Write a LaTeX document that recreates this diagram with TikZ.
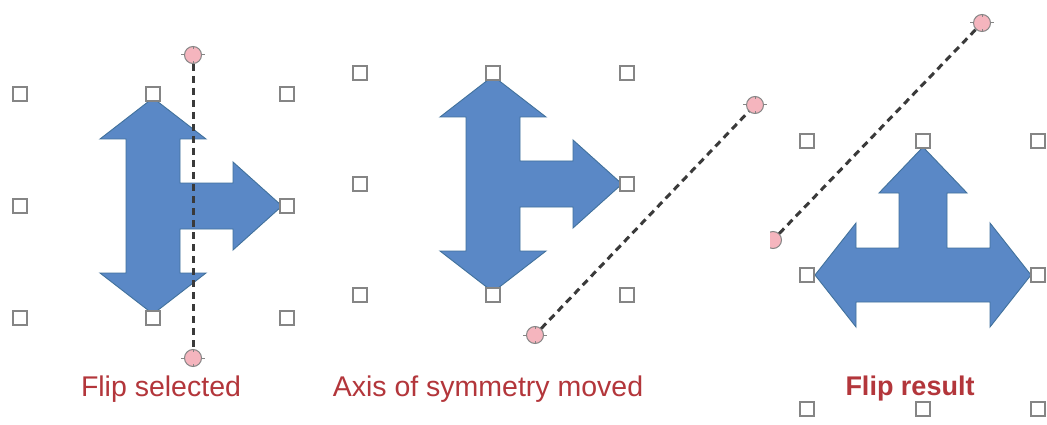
\documentclass[tikz,border=0pt]{standalone}
\usepackage{fontspec}
\setmainfont{Liberation Sans}
\usepackage{tikz}
\usetikzlibrary{positioning,calc}

\definecolor{shapeblue}{HTML}{5A88C6}
\definecolor{shapeedge}{HTML}{41719C}
\definecolor{handlegray}{HTML}{858585}
\definecolor{axispink}{HTML}{F5B5BE}
\definecolor{axisline}{HTML}{3A3A3A}
\definecolor{capred}{HTML}{B3363B}

\begin{document}
\begin{tikzpicture}[
  x=1pt, y=-1pt,
  tee_shape/.style={fill=shapeblue, draw=shapeedge, line width=0.9pt, line join=miter},
  handle/.style={draw=handlegray, fill=white, line width=1.8pt, minimum size=14pt, inner sep=0pt},
  axis_end/.style={circle, fill=axispink, draw=handlegray, line width=1pt, minimum size=17pt, inner sep=0pt},
  axis_line/.style={draw=axisline, line width=3pt, dash pattern=on 7pt off 5pt},
  axis_tick/.style={draw=handlegray, line width=1pt},
  caption/.style={anchor=base, text=capred, font=\fontsize{28.5}{33}\selectfont}
]
% Three-way arrows, local coordinates (centre of the shape at the origin).
\def\teeShape{(0,-108) -- (53,-67) -- (27,-67) -- (27,-23) -- (80,-23) -- (80,-44)
  -- (129,0) -- (80,44) -- (80,23) -- (27,23) -- (27,67) -- (53,67) -- (0,108)
  -- (-53,67) -- (-27,67) -- (-27,-67) -- (-53,-67) -- cycle}
\def\flipShape{(0,-128) -- (44,-82) -- (24,-82) -- (24,-27) -- (67,-27) -- (67,-52)
  -- (108,0) -- (67,52) -- (67,27) -- (-67,27) -- (-67,52) -- (-108,0)
  -- (-67,-52) -- (-67,-27) -- (-24,-27) -- (-24,-82) -- (-44,-82) -- cycle}

\useasboundingbox (0,0) rectangle (1047,425);
\fill[white] (0,0) rectangle (1047,425);

% --- Panel A: flip selected ---
\begin{scope}[shift={(153,206)}]
  \filldraw[tee_shape] \teeShape;
  \foreach \hx/\hy/\hn in {-133/-112/nw,0/-112/n,134/-112/ne,-133/0/w,134/0/e,-133/112/sw,0/112/s,134/112/se}
    \node[handle] (a\hn) at (\hx,\hy) {};
\end{scope}
\node[axis_end] (aTop) at (193,55) {};
\node[axis_end] (aBot) at (193,358) {};
\draw[axis_line] (aTop) -- (aBot);
\node[caption] (capA) at (161,396) {Flip selected};

% --- Panel B: axis of symmetry moved ---
\begin{scope}[shift={(493,184)}]
  \filldraw[tee_shape] \teeShape;
  \foreach \hx/\hy/\hn in {-133/-111/nw,0/-111/n,134/-111/ne,-133/0/w,134/0/e,-133/111/sw,0/111/s,134/111/se}
    \node[handle] (b\hn) at (\hx,\hy) {};
\end{scope}
\node[axis_end] (bBot) at (535,335) {};
\node[axis_end] (bTop) at (755,105) {};
\draw[axis_line] (bBot) -- (bTop);
\node[caption] (capB) at (488,396) {Axis of symmetry moved};

% --- Panel C: flip result ---
\begin{scope}[shift={(923,275)}]
  \filldraw[tee_shape] \flipShape;
  \foreach \hx/\hy/\hn in {-116/-134/nw,0/-134/n,115/-134/ne,-116/0/w,115/0/e,-116/134/sw,0/134/s,115/134/se}
    \node[handle] (c\hn) at (\hx,\hy) {};
\end{scope}
\begin{scope}
  \clip (770,0) rectangle (1047,425);
  \node[axis_end] (cBot) at (773,240) {};
  \node[axis_end] (cTop) at (982,23) {};
  \draw[axis_line] (cBot) -- (cTop);
\end{scope}
\node[caption, font=\fontsize{27}{32}\selectfont\bfseries] (capC) at (910,395) {Flip result};

% small ticks round the axis end points
\foreach \p in {aTop,aBot,bBot,bTop,cTop}
  \foreach \a in {0,90,180,270}
    \draw[axis_tick] (\p.\a) -- ++(\a:3);

\end{tikzpicture}
\end{document}
